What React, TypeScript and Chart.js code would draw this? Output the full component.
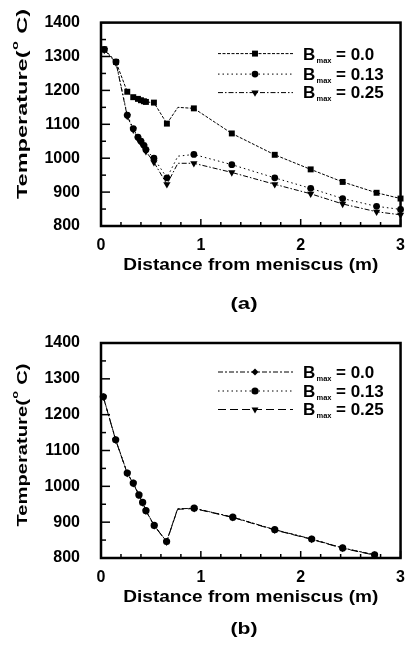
import React, { useEffect, useRef } from 'react';
import { Chart, registerables } from 'chart.js';
Chart.register(...registerables);

// ---------- data ----------
const xTicks = [0, 1, 2, 3];
const yTicks = [800, 900, 1000, 1100, 1200, 1300, 1400];
const seriesLabels = ['0.0', '0.13', '0.25'];

// panel (a)
const xA = [0.033, 0.15, 0.263, 0.323, 0.37, 0.40, 0.43, 0.45, 0.53, 0.66, 0.77, 0.93, 1.31, 1.74, 2.10, 2.42, 2.76, 3.0];
const a00 = [1321, 1284, 1196, 1180, 1175, 1171, 1168, 1166, 1164, 1102, 1150, 1147, 1073, 1010, 967, 930, 898, 881];
const a013 = [1321, 1284, 1127, 1087, 1062, 1050, 1038, 1025, 1000, 942, 1006, 1011, 981, 942, 911, 881, 858, 849];
const a025 = [1319, 1282, 1124, 1084, 1058, 1046, 1034, 1020, 988, 923, 985, 985, 958, 923, 895, 865, 842, 833];
const aUnmarkedX = [0.77];

// panel (b)
const xB = [0.023, 0.147, 0.263, 0.323, 0.38, 0.417, 0.45, 0.533, 0.657, 0.767, 0.933, 1.32, 1.74, 2.11, 2.42, 2.74];
const b00 = [1250, 1130, 1037, 1009, 976, 955, 932, 891, 846, 937, 939, 914, 879, 853, 828, 809];
const b013 = [1250, 1130, 1037, 1009, 976, 955, 932, 891, 846, 937, 939, 914, 879, 853, 828, 809];
const b025 = [1249, 1129, 1036, 1008, 975, 954, 931, 890, 845, 936, 938, 913, 878, 852, 827, 808];
const bUnmarkedX = [0.767];

const FONT = '"Liberation Sans", Arial, Helvetica, sans-serif';

type PanelCfg = {
  height: number;
  padTop: number;
  plotBottom: number;
  xs: number[];
  ys: number[][];
  unmarked: number[];
  styles: string[];
  radii: number[];
  dashes: number[][];
  order: number[];
  caption: string;
  captionBaseline: number;
  yTitleLen: number;
  yTitleCenter: number;
  legendLineY: number[];
  legendBaseY: number[];
};

function drawMarker(ctx: CanvasRenderingContext2D, style: string, x: number, y: number, r: number) {
  ctx.beginPath();
  if (style === 'rect') {
    const s = r * Math.SQRT1_2;
    ctx.rect(x - s, y - s, 2 * s, 2 * s);
  } else if (style === 'rectRot') {
    ctx.moveTo(x, y - r); ctx.lineTo(x + r, y); ctx.lineTo(x, y + r); ctx.lineTo(x - r, y); ctx.closePath();
  } else if (style === 'triangleDown') {
    ctx.moveTo(x - r * 0.866, y - r * 0.5); ctx.lineTo(x + r * 0.866, y - r * 0.5); ctx.lineTo(x, y + r); ctx.closePath();
  } else {
    ctx.arc(x, y, r, 0, Math.PI * 2);
  }
  ctx.fill();
}

function stretchText(ctx: CanvasRenderingContext2D, text: string, x: number, y: number, font: string, targetW: number) {
  ctx.font = font;
  const w = ctx.measureText(text).width;
  const s = targetW / w;
  ctx.save();
  ctx.translate(x, y);
  ctx.scale(s, 1);
  ctx.textAlign = 'center';
  ctx.textBaseline = 'alphabetic';
  ctx.fillText(text, 0, 0);
  ctx.restore();
}

const decoPlugin = {
  id: 'deco',
  afterDraw(chart: any, _args: any, opts: any) {
    const cfg: PanelCfg = opts.cfg;
    if (!cfg) return;
    const { ctx, chartArea: ca, scales } = chart;
    const xs = scales.x, ys = scales.y;
    ctx.save();
    ctx.fillStyle = '#000';
    ctx.strokeStyle = '#000';
    ctx.setLineDash([]);
    // inward ticks
    ctx.lineWidth = 1.5;
    for (let i = 0; i <= 15; i++) {
      const v = i * 0.2;
      const major = i % 5 === 0;
      const px = xs.getPixelForValue(v);
      ctx.beginPath(); ctx.moveTo(px, ca.bottom); ctx.lineTo(px, ca.bottom - (major ? 7 : 4)); ctx.stroke();
    }
    for (let i = 0; i <= 12; i++) {
      const v = 800 + i * 50;
      const major = i % 2 === 0;
      const py = ys.getPixelForValue(v);
      ctx.beginPath(); ctx.moveTo(ca.left, py); ctx.lineTo(ca.left + (major ? 9 : 5), py); ctx.stroke();
    }
    // frame
    ctx.lineWidth = 2.5;
    ctx.strokeRect(ca.left, ca.top, ca.right - ca.left, ca.bottom - ca.top);

    // legend
    for (let k = 0; k < 3; k++) {
      const ly = ca.top + cfg.legendLineY[k];
      const by = ca.top + cfg.legendBaseY[k];
      ctx.lineWidth = 1;
      ctx.setLineDash(cfg.dashes[k]);
      ctx.beginPath(); ctx.moveTo(218, ly); ctx.lineTo(293, ly); ctx.stroke();
      ctx.setLineDash([]);
      drawMarker(ctx, cfg.styles[k], 255, ly, cfg.radii[k]);
      ctx.textAlign = 'left';
      ctx.textBaseline = 'alphabetic';
      ctx.font = 'bold 17px ' + FONT;
      ctx.fillText('B', 303, by);
      ctx.font = 'bold 7.5px ' + FONT;
      ctx.fillText('max', 316.5, by + 3);
      ctx.font = 'bold 17px ' + FONT;
      ctx.fillText('= ' + seriesLabels[k], 336, by);
    }

    // x title
    const midX = (ca.left + ca.right) / 2;
    stretchText(ctx, 'Distance from meniscus (m)', midX, ca.bottom + 44, 'bold 16px ' + FONT, 255);
    // caption
    stretchText(ctx, cfg.caption, 244, cfg.captionBaseline, 'bold 16px ' + FONT, 27);

    // y title with superscript
    const f1 = 'bold 15px ' + FONT, f2 = 'bold 9px ' + FONT;
    const p1 = 'Temperature(', p2 = 'o', p3 = ' C)';
    ctx.font = f1; const w1 = ctx.measureText(p1).width; const w3 = ctx.measureText(p3).width;
    ctx.font = f2; const w2 = ctx.measureText(p2).width + 1;
    const W = w1 + w2 + w3;
    const s = cfg.yTitleLen / W;
    ctx.save();
    ctx.translate(27, cfg.yTitleCenter);
    ctx.rotate(-Math.PI / 2);
    ctx.scale(s, 1);
    ctx.textAlign = 'left';
    ctx.textBaseline = 'alphabetic';
    let cx = -W / 2;
    ctx.font = f1; ctx.fillText(p1, cx, 0); cx += w1;
    ctx.font = f2; ctx.fillText(p2, cx + 0.5, -9); cx += w2;
    ctx.font = f1; ctx.fillText(p3, cx, 0);
    ctx.restore();

    ctx.restore();
  },
};

function makeChart(canvas: HTMLCanvasElement, cfg: PanelCfg) {
  const datasets = cfg.ys.map((vals, k) => ({
    label: 'B max = ' + seriesLabels[k],
    data: cfg.xs.map((x, i) => ({ x, y: vals[i] })),
    borderColor: '#000',
    backgroundColor: '#000',
    borderWidth: 1,
    borderDash: cfg.dashes[k],
    pointStyle: cfg.styles[k] === 'triangleDown' ? 'triangle' : cfg.styles[k],
    rotation: cfg.styles[k] === 'triangleDown' ? 180 : 0,
    pointRadius: (c: any) => {
      const raw = c.raw;
      if (raw && cfg.unmarked.some((u) => Math.abs(u - raw.x) < 1e-9)) return 0;
      return cfg.radii[k];
    },
    pointBorderWidth: 0,
    pointBackgroundColor: '#000',
    tension: 0,
    clip: false as any,
    order: cfg.order[k],
  }));
  return new Chart(canvas, {
    type: 'line',
    data: { datasets },
    plugins: [decoPlugin],
    options: {
      responsive: false,
      animation: false,
      devicePixelRatio: 1,
      layout: { padding: { top: cfg.padTop, right: 6, left: 0, bottom: 0 } },
      plugins: {
        legend: { display: false },
        tooltip: { enabled: false },
        title: { display: false },
        deco: { cfg },
      } as any,
      scales: {
        x: {
          type: 'linear',
          min: 0,
          max: 3,
          grid: { display: false },
          border: { display: false },
          afterBuildTicks: (sc: any) => { sc.ticks = xTicks.map((v) => ({ value: v })); },
          afterFit: (sc: any) => { sc.height = cfg.height - cfg.plotBottom; },
          ticks: { color: '#000', font: { family: FONT, size: 16, weight: 'bold' }, padding: 2, maxRotation: 0, autoSkip: false, callback: (v: any) => String(v) },
        },
        y: {
          type: 'linear',
          min: 800,
          max: 1400,
          grid: { display: false },
          border: { display: false },
          afterBuildTicks: (sc: any) => { sc.ticks = yTicks.map((v) => ({ value: v })); },
          afterFit: (sc: any) => { sc.width = 101; },
          ticks: { color: '#000', font: { family: FONT, size: 16, weight: 'bold' }, padding: 13, autoSkip: false, callback: (v: any) => String(v) },
        },
      },
    } as any,
  });
}

const cfgA: PanelCfg = {
  height: 320,
  padTop: 10,
  plotBottom: 226,
  xs: xA,
  ys: [a00, a013, a025],
  unmarked: aUnmarkedX,
  styles: ['rect', 'circle', 'triangleDown'],
  radii: [4.2, 3.4, 4.2],
  dashes: [[3, 1.5], [1.5, 3], [5, 2, 1.5, 2]],
  order: [0, 1, 2],
  caption: '(a)',
  captionBaseline: 309,
  yTitleLen: 190,
  yTitleCenter: 104,
  legendLineY: [31, 51.5, 70],
  legendBaseY: [37, 57, 75],
};

const cfgB: PanelCfg = {
  height: 326,
  padTop: 23,
  plotBottom: 238,
  xs: xB,
  ys: [b00, b013, b025],
  unmarked: bUnmarkedX,
  styles: ['rectRot', 'circle', 'triangleDown'],
  radii: [3.5, 3.6, 4.0],
  dashes: [[5, 2, 2, 2], [1.5, 3], [8, 4]],
  order: [1, 0, 2],
  caption: '(b)',
  captionBaseline: 314,
  yTitleLen: 163,
  yTitleCenter: 125,
  legendLineY: [29, 48, 66.5],
  legendBaseY: [35, 54, 72],
};

export default function App() {
  const refA = useRef<HTMLCanvasElement>(null);
  const refB = useRef<HTMLCanvasElement>(null);
  useEffect(() => {
    const ca = makeChart(refA.current!, cfgA);
    const cb = makeChart(refB.current!, cfgB);
    return () => { ca.destroy(); cb.destroy(); };
  }, []);
  return (
    <div style={{ position: 'absolute', left: 0, top: 0, width: 407, height: 646, background: '#fff' }}>
      <canvas ref={refA} width={407} height={320} style={{ position: 'absolute', left: 0, top: 0, width: 407, height: 320 }} />
      <canvas ref={refB} width={407} height={326} style={{ position: 'absolute', left: 0, top: 320, width: 407, height: 326 }} />
    </div>
  );
}
